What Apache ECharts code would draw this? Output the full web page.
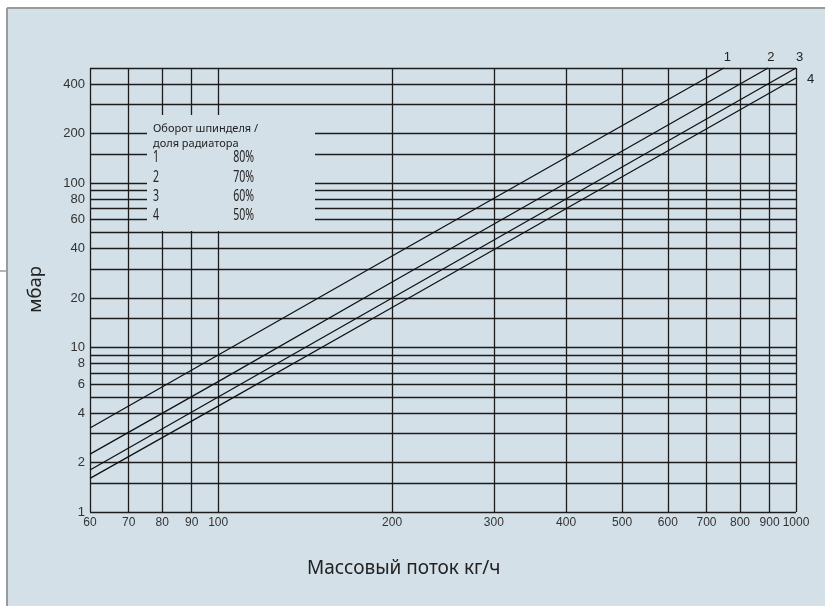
<!DOCTYPE html>
<html>
<head>
<meta charset="utf-8">
<script src="https://cdn.jsdelivr.net/npm/echarts@6/dist/echarts.min.js"></script>
<style>
  html, body { margin: 0; padding: 0; background: #ffffff; }
  #chart { width: 825px; height: 606px; }
</style>
</head>
<body>
<div id="chart"></div>
<script>
var myChart = echarts.init(document.getElementById('chart'));

// grid lines and labels (log-log paper)
var xGrid = [60, 70, 80, 90, 100, 200, 300, 400, 500, 600, 700, 800, 900, 1000];
var xLabels = [60, 70, 80, 90, 100, 200, 300, 400, 500, 600, 700, 800, 900, 1000];
var yGrid = [1, 1.5, 2, 3, 4, 5, 6, 7, 8, 9, 10, 15, 20, 30, 40, 50, 60, 70, 80, 90, 100, 150, 200, 300, 400, 500];
var yLabels = [1, 2, 4, 6, 8, 10, 20, 40, 60, 80, 100, 200, 400];

// curves: [mass flow kg/h, pressure mbar]
var line1 = [[60, 3.24], [100, 9.0], [200, 36], [750, 500]];
var line2 = [[60, 2.25], [100, 6.2], [200, 25], [895, 500]];
var line3 = [[60, 1.8], [100, 5.0], [200, 20], [1000, 500]];
var line4 = [[60, 1.6], [100, 4.4], [200, 17.5], [1000, 435]];
var lineNames = ['1', '2', '3', '4'];
var legendRows = [['1', '80%'], ['2', '70%'], ['3', '60%'], ['4', '50%']];

var gridColor = '#1c1c1c';
var bg = '#d3e0e8';
var labelFont = '"Liberation Sans", Arial, sans-serif';

var xMarks = xGrid.map(function (v) {
    return { xAxis: v, label: { show: xLabels.indexOf(v) >= 0, fontSize: 12 } };
});
var yMarks = yGrid.map(function (v) {
    return { yAxis: v, label: { show: yLabels.indexOf(v) >= 0, fontSize: 13 } };
});

function curve(data, name, offset) {
    return {
        name: name,
        type: 'line',
        z: 5,
        symbol: 'none',
        silent: true,
        clip: false,
        lineStyle: { color: '#111', width: 1.3 },
        endLabel: {
            show: true, formatter: name, offset: offset,
            color: '#222', fontSize: 13, fontFamily: labelFont
        },
        data: data
    };
}

// legend rows, narrow numbers
var legendEls = [];
legendRows.forEach(function (r, i) {
    legendEls.push({ type: 'text', z: 10, x: 0, y: i * 19.4, scaleX: 0.64,
        style: { text: r[0], fill: '#222', font: '16.5px "Noto Sans", sans-serif' } });
    legendEls.push({ type: 'text', z: 10, x: 101, y: i * 19.4, scaleX: 0.64,
        style: { text: r[1], fill: '#222', font: '16.5px "Noto Sans", sans-serif', align: 'right' } });
});

var option = {
    backgroundColor: '#ffffff',
    animation: false,
    grid: { left: 90, right: 29, top: 68, bottom: 94 },
    xAxis: {
        type: 'log', logBase: 10, min: 60, max: 1000,
        axisLine: { show: false }, axisTick: { show: false },
        axisLabel: { show: false }, splitLine: { show: false }
    },
    yAxis: {
        type: 'log', logBase: 10, min: 1, max: 500,
        axisLine: { show: false }, axisTick: { show: false },
        axisLabel: { show: false }, splitLine: { show: false }
    },
    graphic: [
        { type: 'rect', z: -10, shape: { x: 7, y: 8, width: 818, height: 598 },
          style: { fill: bg } },
        { type: 'line', z: -9, shape: { x1: 7, y1: 8, x2: 825, y2: 8 },
          style: { stroke: '#9a9a9a', lineWidth: 2 } },
        { type: 'line', z: -9, shape: { x1: 7, y1: 8, x2: 7, y2: 606 },
          style: { stroke: '#9a9a9a', lineWidth: 2 } },
        { type: 'line', z: -9, shape: { x1: 0, y1: 271, x2: 7, y2: 271 },
          style: { stroke: '#9a9a9a', lineWidth: 1.5 } },
        // blank box for the legend
        { type: 'rect', z: 3, shape: { x: 147, y: 115, width: 168, height: 116 },
          style: { fill: bg } },
        { type: 'text', z: 10, left: 153, top: 121,
          style: { text: 'Оборот шпинделя /\nдоля радиатора', fill: '#222',
                   font: '11px "Noto Sans", sans-serif', lineHeight: 15 } },
        { type: 'group', z: 10, left: 153, top: 149, children: legendEls },
        { type: 'text', z: 10, left: 26, top: 266, rotation: Math.PI / 2,
          style: { text: 'мбар', fill: '#222', font: '18.5px "Noto Sans", sans-serif' } },
        { type: 'text', z: 10, left: 307, top: 559,
          style: { text: 'Массовый поток кг/ч', fill: '#222', font: '19px "Noto Sans", sans-serif' } }
    ],
    series: [
        {
            type: 'line',
            z: 1,
            data: [],
            markLine: {
                z: 1,
                silent: true,
                symbol: ['none', 'none'],
                animation: false,
                lineStyle: { color: gridColor, type: 'solid', width: 1.3 },
                label: {
                    position: 'start', distance: 5, color: '#333',
                    fontFamily: labelFont,
                    formatter: function (p) { return p.value; }
                },
                emphasis: { disabled: true },
                data: xMarks.concat(yMarks)
            }
        },
        curve(line1, lineNames[0], [-8, -11]),
        curve(line2, lineNames[1], [-9, -11]),
        curve(line3, lineNames[2], [-8, -11]),
        curve(line4, lineNames[3], [3, 1])
    ]
};
myChart.setOption(option);
</script>
</body>
</html>
